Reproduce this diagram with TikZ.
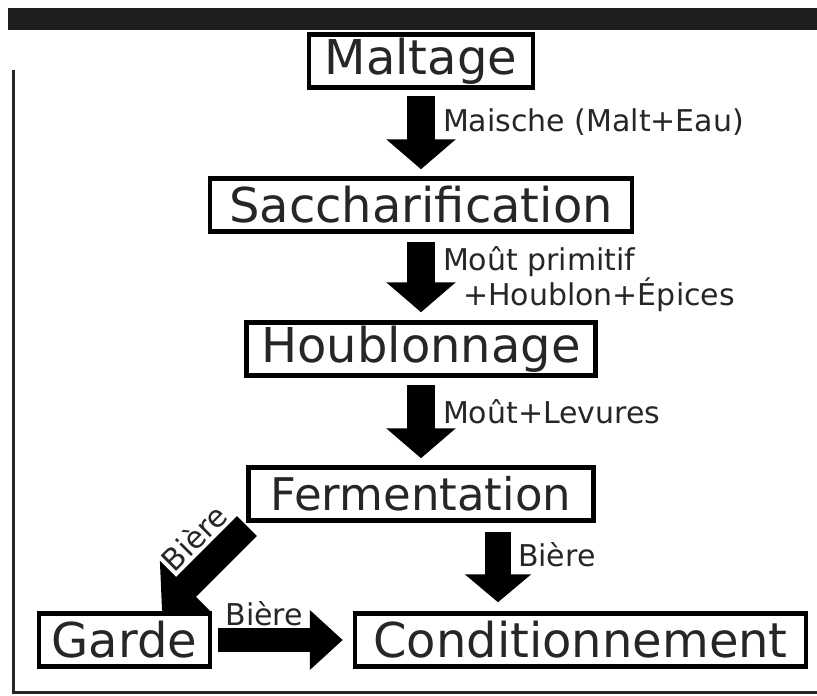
\documentclass[tikz,border=0pt]{standalone}
\usepackage{fontspec}
\setmainfont{DejaVu Sans}
\usetikzlibrary{arrows.meta,calc}
\definecolor{encre}{HTML}{262626}
\tikzset{%
  etape/.style  = {shape=rectangle, draw=black, line width=4.5pt,%
                   text=encre, font=\fontsize{48}{50}\selectfont,%
                   inner xsep=8pt, inner ysep=0pt, minimum height=53pt},%
  fleche/.style = {draw=black, line width=28pt,%
                   -{Triangle[length=30pt,width=68pt]}},%
  etiq/.style   = {font=\fontsize{30}{30}\selectfont, text=encre,%
                   inner sep=0pt, outer sep=0pt, align=left}%
}

\begin{document}
\begin{tikzpicture}
[x=1pt,y=-1pt]
	\useasboundingbox (0,0) rectangle (817,696);
	\fill [black!88] (8,8) rectangle (817,30);
	\draw [line width=3pt,black!85] (13,70) -- (13,692) -- (817,692);
	\node [etape,minimum width=224pt] (malt) at (421,61) {Maltage};
	\node [etape,minimum width=422pt] (sacch) at (421,205) {Saccharification};
	\node [etape,minimum width=349pt] (houb) at (421,349) {Houblonnage};
	\node [etape,minimum width=345pt,font=\fontsize{45}{50}\selectfont] (ferm) at (421,494) {Fermentation};
	\node [etape,minimum width=171pt] (garde) at (124.5,640) {Garde};
	\node [etape,minimum width=451pt] (cond) at (580.5,640) {Conditionnement};
	\coordinate (fb) at ($(ferm.south)+(77,0)$);
	\coordinate (dh) at (247,526);
	\coordinate (dg) at (162,611);
	\draw [fleche,shorten <=6pt,shorten >=7pt] (malt) -- (sacch)
		node [etiq,pos=0.37,right=22pt] {Maische (Malt+Eau)};
	\draw [fleche,shorten <=8pt,shorten >=8pt] (sacch) -- (houb)
		node [etiq,pos=0.52,right=22pt] {Moût primitif\\\hspace*{20pt}+Houblon+Épices};
	\draw [fleche,shorten <=7pt,shorten >=7pt] (houb.south) -- (houb.south |- ferm.north)
		node [etiq,pos=0.39,right=22pt] {Moût+Levures};
	\draw [fleche,line width=26pt,-{Triangle[length=28pt,width=65pt]},
		shorten <=9pt,shorten >=9pt] (fb) -- (fb |- cond.north)
		node [etiq,pos=0.36,right=20pt] {Bière};
	\draw [line width=28pt,{Triangle[length=34pt,width=72pt]}-] (dg) -- (dh)
		node [etiq,pos=0.62,sloped,above=17pt] {Bière};
	\draw [fleche,line width=24pt,-{Triangle[length=33pt,width=58pt]},
		shorten <=6pt,shorten >=10pt] (garde) -- (cond)
		node [etiq,pos=0.37,above=14pt] {Bière};
\end{tikzpicture}
\end{document}
